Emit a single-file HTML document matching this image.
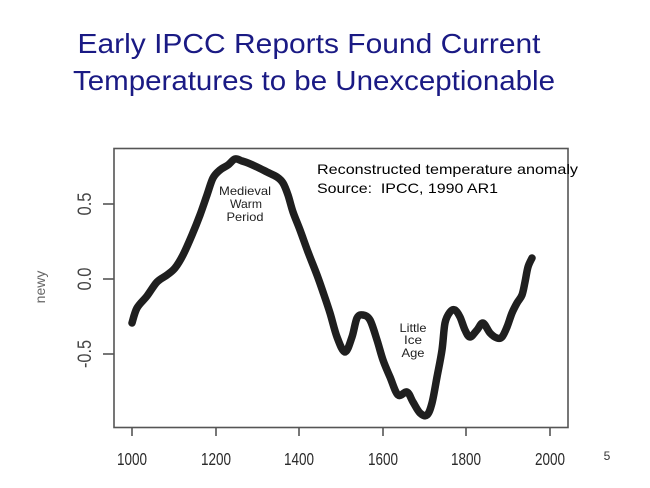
<!DOCTYPE html>
<html><head><meta charset="utf-8"><style>
html,body{margin:0;padding:0;background:#fff;}
svg{display:block;}
</style></head><body>
<svg width="650" height="488" viewBox="0 0 650 488" xmlns="http://www.w3.org/2000/svg" font-family="Liberation Sans, Arial, sans-serif">
<rect width="650" height="488" fill="#fff"/>
<text x="309" y="53" font-size="28" fill="#1a1a84" text-anchor="middle" textLength="463" lengthAdjust="spacingAndGlyphs">Early IPCC Reports Found Current</text>
<text x="314" y="90" font-size="28" fill="#1a1a84" text-anchor="middle" textLength="482" lengthAdjust="spacingAndGlyphs">Temperatures to be Unexceptionable</text>

<rect x="114" y="148.5" width="454" height="279" fill="none" stroke="#555" stroke-width="1.6"/>
<g stroke="#555" stroke-width="1.6">
<line x1="132" y1="428" x2="132" y2="436"/>
<line x1="216" y1="428" x2="216" y2="436"/>
<line x1="299" y1="428" x2="299" y2="436"/>
<line x1="383" y1="428" x2="383" y2="436"/>
<line x1="466" y1="428" x2="466" y2="436"/>
<line x1="550" y1="428" x2="550" y2="436"/>
<line x1="103" y1="204" x2="114" y2="204"/>
<line x1="103" y1="279" x2="114" y2="279"/>
<line x1="103" y1="354" x2="114" y2="354"/>
</g>
<g font-size="16" fill="#2a2a2a" text-anchor="middle">
<text transform="translate(132,465) scale(1,1.12)" textLength="30" lengthAdjust="spacingAndGlyphs">1000</text>
<text transform="translate(216,465) scale(1,1.12)" textLength="30" lengthAdjust="spacingAndGlyphs">1200</text>
<text transform="translate(299,465) scale(1,1.12)" textLength="30" lengthAdjust="spacingAndGlyphs">1400</text>
<text transform="translate(383,465) scale(1,1.12)" textLength="30" lengthAdjust="spacingAndGlyphs">1600</text>
<text transform="translate(466,465) scale(1,1.12)" textLength="30" lengthAdjust="spacingAndGlyphs">1800</text>
<text transform="translate(550,465) scale(1,1.12)" textLength="30" lengthAdjust="spacingAndGlyphs">2000</text>
</g>
<g font-size="19" fill="#444" text-anchor="middle">
<text transform="translate(91,204) rotate(-90)" textLength="23" lengthAdjust="spacingAndGlyphs">0.5</text>
<text transform="translate(91,279) rotate(-90)" textLength="23" lengthAdjust="spacingAndGlyphs">0.0</text>
<text transform="translate(91,354) rotate(-90)" textLength="28" lengthAdjust="spacingAndGlyphs">-0.5</text>
</g>
<text transform="translate(45,287) rotate(-90)" font-size="14" fill="#666" text-anchor="middle">newy</text>

<polyline id="curve" fill="none" stroke="#1f1f1f" stroke-width="7.5" stroke-linejoin="round" stroke-linecap="round"
points="132,323 137,308 147,296 157,282 167,275 175,268 183,255 192,235 200,215 207,195 213,178 220,170 228,165 235,159 242,161 248,163 257,167 267,172 277,177 283,183 288,195 293,212 300,230 308,252 317,275 323,292 330,313 337,337 345,352 352,337 357,318 363,315 370,320 377,340 383,360 390,377 398,395 407,392 413,402 420,413 427,415 432,403 437,377 442,350 445,323 450,312 455,310 460,317 465,330 470,337 477,330 483,323 490,333 497,338 502,337 507,327 512,313 517,303 522,295 525,282 528,267 532,258"/>
<path id="smooth" fill="none" stroke="#1f1f1f" stroke-width="7.5" stroke-linejoin="round" stroke-linecap="round" d=""/>

<g font-size="14" fill="#000">
<text x="317" y="174" textLength="261" lengthAdjust="spacingAndGlyphs">Reconstructed temperature anomaly</text>
<text x="317" y="193" textLength="181" lengthAdjust="spacingAndGlyphs" xml:space="preserve">Source:  IPCC, 1990 AR1</text>
</g>
<g font-size="12" fill="#222" text-anchor="middle">
<text x="245" y="195" textLength="52" lengthAdjust="spacingAndGlyphs">Medieval</text>
<text x="246" y="208" textLength="32" lengthAdjust="spacingAndGlyphs">Warm</text>
<text x="245" y="221" textLength="37" lengthAdjust="spacingAndGlyphs">Period</text>
<text x="413" y="332" textLength="27" lengthAdjust="spacingAndGlyphs">Little</text>
<text x="413" y="344" textLength="18" lengthAdjust="spacingAndGlyphs">Ice</text>
<text x="413" y="357" textLength="23" lengthAdjust="spacingAndGlyphs">Age</text>
</g>
<text x="607" y="460" font-size="12" fill="#333" text-anchor="middle">5</text>
</svg>
<script>
(function(){
  var pl=document.getElementById('curve');
  var raw=pl.getAttribute('points').trim().split(/\s+/).map(function(s){var a=s.split(',');return [+a[0],+a[1]];});
  var d='M'+raw[0][0]+','+raw[0][1];
  for(var i=0;i<raw.length-1;i++){
    var p0=raw[i-1]||raw[i],p1=raw[i],p2=raw[i+1],p3=raw[i+2]||p2;
    var c1x=p1[0]+(p2[0]-p0[0])/6,c1y=p1[1]+(p2[1]-p0[1])/6;
    var c2x=p2[0]-(p3[0]-p1[0])/6,c2y=p2[1]-(p3[1]-p1[1])/6;
    d+=' C'+c1x.toFixed(2)+','+c1y.toFixed(2)+' '+c2x.toFixed(2)+','+c2y.toFixed(2)+' '+p2[0]+','+p2[1];
  }
  document.getElementById('smooth').setAttribute('d',d);
  pl.setAttribute('stroke','none');
})();
</script>
</body></html>
